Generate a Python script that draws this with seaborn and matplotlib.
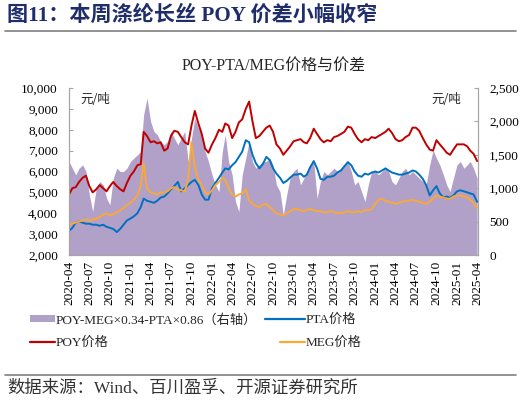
"""POY-PTA/MEG价格与价差 图表复刻。"""

import matplotlib
matplotlib.use("Agg")
import matplotlib.pyplot as plt
import matplotlib.dates as mdates
from matplotlib.lines import Line2D
from matplotlib.patches import Patch
import numpy as np
import pandas as pd
import seaborn as sns

# 半月频日期（每月1日、16日），2020-04 至 2025-04
dates = pd.to_datetime([f"{y}-{m:02d}-{d:02d}"
                        for y in range(2020, 2026) for m in range(1, 13) for d in (1, 16)])
dates = dates[(dates >= "2020-04-01") & (dates <= "2025-04-01")]

poy = [4900, 5200, 5250, 5500, 5700, 5800, 5300, 5000, 5150, 5350,
       5200, 5050, 5300, 5500, 5300, 5150, 5050, 5450, 5800, 6000,
       6300, 6350, 7900, 7700, 7400, 7450, 7350, 7400, 7000, 7100,
       7700, 7950, 7900, 7650, 7400, 7300, 8200, 8900, 8300, 7800,
       7100, 6900, 7300, 7600, 8000, 7900, 8300, 8200, 7600, 7900,
       8350, 8500, 9000, 9350, 8400, 7600, 7700, 7900, 8100, 8200,
       7900, 7300, 7100, 6800, 7000, 7200, 7450, 7500, 7550, 7400,
       7350, 7600, 8050, 7800, 7550, 7400, 7500, 7450, 7650, 7700,
       7800, 7900, 8150, 8100, 7800, 7550, 7400, 7550, 7500, 7650,
       7600, 7700, 7800, 7900, 8050, 7850, 7550, 7450, 7500, 7650,
       7750, 8100, 8100, 7950, 7600, 7300, 7050, 7000, 7500, 7300,
       7100, 6900, 6800, 7050, 7300, 7300, 7300, 7200, 7000, 6850,
       6500]

pta = [3150, 3300, 3550, 3600, 3550, 3500, 3500, 3450, 3450, 3400,
       3450, 3350, 3300, 3250, 3100, 3250, 3450, 3650, 3750, 3850,
       4000, 4300, 4700, 4600, 4550, 4500, 4600, 4750, 4800, 4950,
       5150, 5300, 5500, 5050, 5200, 5350, 5500, 5600, 5350, 4900,
       4650, 4650, 5200, 5450, 5700, 5950, 6150, 6100, 6300, 6450,
       6700, 6950, 7500, 7400, 6800, 6400, 6150, 6350, 6700, 6550,
       6150, 5900, 5700, 5450, 5550, 5700, 5850, 5850, 5900, 5750,
       5850, 6200, 6500, 6150, 5650, 5600, 5750, 5750, 5800, 5950,
       6050, 6250, 6450, 6300, 6000, 5800, 5750, 5900, 5850, 5950,
       6000, 5950, 6050, 6150, 6050, 5950, 5900, 5850, 5850, 5900,
       5950, 6050, 6000, 5850, 5650, 5350, 4850, 5100, 5300, 4950,
       4750, 4800, 4750, 4850, 5050, 5100, 5050, 5000, 4950, 4900,
       4550]

meg = [3450, 3500, 3550, 3600, 3650, 3700, 3650, 3700, 3750, 3800,
       3950, 4000, 3900, 3950, 4050, 4150, 4250, 4400, 4500, 4650,
       4850, 5300, 6400, 5200, 5000, 4950, 4900, 5000, 5000, 5050,
       5200, 5250, 5150, 5100, 5050, 5600, 7400, 6200, 5600, 5350,
       5000, 4900, 5100, 5350, 5500, 5700, 5600, 5200, 4900, 4800,
       4900, 4950, 5150, 4600, 4450, 4350, 4300, 4400, 4450, 4300,
       4150, 4000, 3950, 3900, 4000, 4100, 4200, 4200, 4150, 4100,
       4150, 4200, 4150, 4100, 4100, 4050, 4050, 4100, 4050, 4000,
       4000, 4050, 4100, 4050, 4050, 4100, 4050, 4150, 4150, 4200,
       4450, 4650, 4700, 4600, 4550, 4500, 4450, 4500, 4550, 4600,
       4600, 4650, 4600, 4550, 4500, 4450, 4550, 4700, 4850, 4800,
       4750, 4700, 4700, 4800, 4850, 4850, 4800, 4750, 4650, 4500,
       4250]

spread = [1400, 1300, 1200, 1300, 1350, 1250, 900, 650, 1000, 1100,
          1050, 850, 750, 1150, 1300, 1250, 1250, 1300, 1400, 1450,
          1500, 1550, 2100, 2350, 2000, 1850, 1800, 1700, 1650, 1700,
          1850, 1750, 1650, 1750, 1850, 1400, 1750, 2050, 1900, 1800,
          1550, 1400, 1200, 1050, 950, 1550, 1800, 1400, 1200, 800,
          650, 1200, 1450, 1700, 1400, 1300, 1350, 1400, 1400, 1450,
          1350, 1050, 950, 600, 900, 1150, 1250, 1300, 1050, 1150,
          1250, 1350, 1400, 850, 1100, 1250, 1200, 1250, 1300, 1250,
          1300, 1350, 1400, 1250, 1050, 1100, 950, 800, 1050, 1250,
          1250, 1200, 1250, 1300, 1250, 1100, 1050, 1150, 1250, 1300,
          1200, 1250, 1200, 1150, 1100, 1050, 1350, 1570, 1450, 1350,
          1200, 1050, 950, 1150, 1350, 1400, 1300, 1350, 1400, 1300,
          1150]

C_POY = "#C00000"
C_PTA = "#0070C0"
C_MEG = "#F9A83A"
C_SPREAD = "#B1A0C7"
SERIF_CJK = ["Liberation Serif", "Noto Sans CJK SC"]

df = pd.DataFrame({"date": dates, "POY": poy, "PTA": pta, "MEG": meg, "spread": spread})

sns.set_theme(style="white")
plt.rcParams["font.family"] = SERIF_CJK
plt.rcParams["axes.unicode_minus"] = False

fig = plt.figure(figsize=(5.21, 4.05), dpi=100)
ax = fig.add_axes([69 / 521, 1 - 255 / 405, (478 - 69) / 521, (255 - 88) / 405])
ax2 = ax.twinx()

# 价差面积（右轴）放在底层
ax2.fill_between(df["date"], 0, df["spread"], color=C_SPREAD, linewidth=0)
ax2.set_ylim(0, 2500)
ax2.set_yticks(np.arange(0, 2501, 500))
ax2.set_yticklabels([f"{v:,}" for v in range(0, 2501, 500)])

ax.set_zorder(ax2.get_zorder() + 1)
ax.patch.set_visible(False)

sns.lineplot(data=df, x="date", y="POY", ax=ax, color=C_POY, linewidth=1.4)
sns.lineplot(data=df, x="date", y="PTA", ax=ax, color=C_PTA, linewidth=1.4)
sns.lineplot(data=df, x="date", y="MEG", ax=ax, color=C_MEG, linewidth=1.4)

ax.set_ylim(2000, 10000)
ax.set_yticks(np.arange(2000, 10001, 1000))
ax.set_yticklabels([f"{v:,}" for v in range(2000, 10001, 1000)])
ax.set_xlim(pd.Timestamp("2020-04-01"), pd.Timestamp("2025-04-05"))
ax.xaxis.set_major_locator(mdates.MonthLocator(bymonth=[1, 4, 7, 10]))
ax.xaxis.set_major_formatter(mdates.DateFormatter("%Y-%m"))
ax.set_xlabel("")
ax.set_ylabel("")
ax2.set_ylabel("")

for a in (ax, ax2):
    a.spines["top"].set_visible(False)
    for side in ("left", "right", "bottom"):
        a.spines[side].set_color("#A6A6A6")
        a.spines[side].set_linewidth(0.8)
    a.tick_params(direction="in", length=3, width=0.8, color="#A6A6A6",
                  labelsize=9.5, labelcolor="black")
ax.tick_params(axis="x", rotation=90, pad=4)
ax.tick_params(axis="y", pad=8)
ax2.tick_params(axis="y", pad=8)
ax.grid(False)
ax2.grid(False)

ax.text(0.028, 0.93, "元/吨", transform=ax.transAxes, fontsize=9,
        family=["Noto Sans CJK SC"], va="center", ha="left")
ax.text(0.96, 0.93, "元/吨", transform=ax.transAxes, fontsize=9,
        family=["Noto Sans CJK SC"], va="center", ha="right")

ax.set_title("POY-PTA/MEG价格与价差", fontsize=11.5, pad=13)

# 图例：按参考图逐项定位
legend_items = [
    (Patch(facecolor=C_SPREAD, edgecolor="none"), "POY-MEG×0.34-PTA×0.86（右轴）", 30, 320, 1.9),
    (Line2D([], [], color=C_PTA, linewidth=1.6), "PTA价格", 265, 320, 3.0),
    (Line2D([], [], color=C_POY, linewidth=1.6), "POY价格", 30, 343, 1.9),
    (Line2D([], [], color=C_MEG, linewidth=1.6), "MEG价格", 280, 343, 1.9),
]
for handle, label, lx, ly, hl in legend_items:
    fig.legend(handles=[handle], labels=[label], loc="center left",
               bbox_to_anchor=(lx / 521, 1 - ly / 405), frameon=False, fontsize=9.5,
               handlelength=hl, handleheight=0.45, handletextpad=0.05,
               borderpad=0, borderaxespad=0)

# 标题与来源
fig.text(7 / 521, 1 - 16 / 405, "图11：本周涤纶长丝 POY 价差小幅收窄", fontsize=15.2,
         fontweight="bold", color="#1F2D6B", family=SERIF_CJK, va="center", ha="left")
fig.add_artist(Line2D([5 / 521, 516 / 521], [1 - 31 / 405] * 2, color="#7F7F7F", linewidth=1.2))
fig.add_artist(Line2D([5 / 521, 516 / 521], [1 - 375 / 405] * 2, color="#7F7F7F", linewidth=1.2))
fig.text(7 / 521, 1 - 389 / 405, "数据来源：Wind、百川盈孚、开源证券研究所", fontsize=12.5,
         color="#333333", family=SERIF_CJK, va="center", ha="left")

fig.savefig("out.png", dpi=100)
